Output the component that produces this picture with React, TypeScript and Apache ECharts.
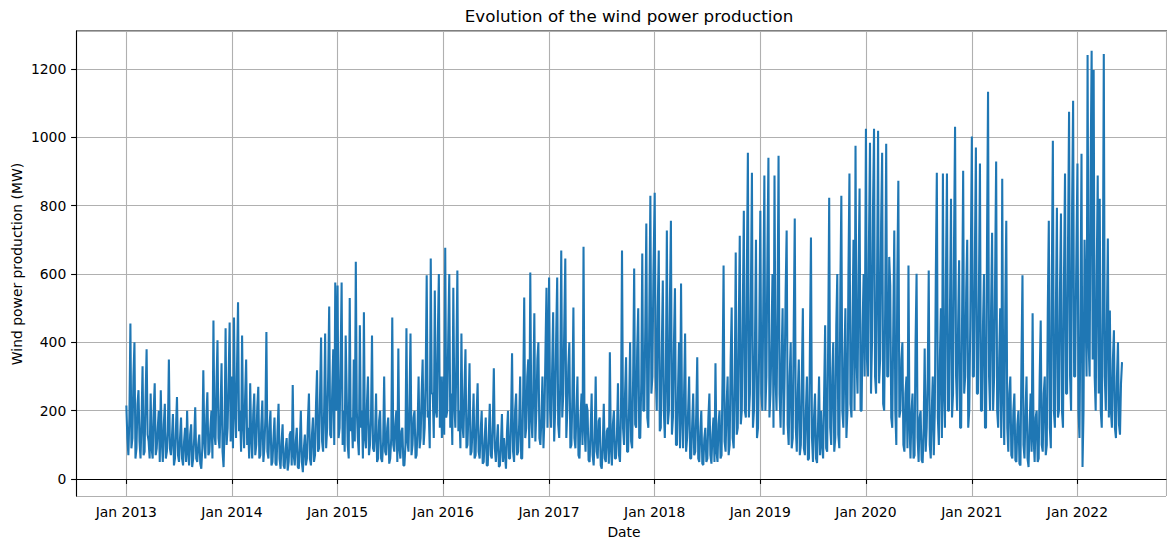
import React, { useEffect, useRef } from "react";
import * as echarts from "echarts";

// Half-weekly readings (MW) per year, read/
const y2013 = [215, 120, 70, 180, 455, 90, 120, 300, 400, 60, 90, 220, 260, 110, 60, 170, 330, 70, 80, 240, 380, 130, 110, 60, 250, 90, 60, 200, 280, 70, 90, 150, 200, 50, 260, 110, 50, 160, 220, 60, 80, 140, 350, 90, 70, 120, 190, 40, 60, 150, 240, 70, 50, 120, 180, 60, 40, 110, 150, 50, 200, 80, 40, 130, 160, 35, 60, 120, 210, 60, 50, 100, 130, 45, 30, 90, 318, 110, 60, 180, 254, 70, 80, 150, 200, 60, 464, 130, 100, 280, 406, 120, 90, 200, 339, 80, 35, 150, 441, 100, 150, 300, 458, 110];
const y2014 = [300, 90, 473, 200, 120, 330, 517, 140, 200, 80, 420, 160, 90, 240, 350, 100, 150, 60, 280, 120, 60, 190, 250, 70, 100, 210, 270, 60, 70, 160, 230, 50, 90, 180, 430, 80, 60, 150, 200, 40, 50, 120, 180, 45, 40, 140, 220, 60, 30, 110, 160, 40, 30, 90, 120, 25, 50, 130, 140, 40, 275, 70, 40, 110, 150, 35, 30, 100, 200, 50, 20, 90, 130, 40, 60, 170, 250, 60, 40, 130, 180, 50, 70, 220, 318, 80, 90, 250, 414, 110, 80, 200, 426, 90, 150, 300, 505, 130, 120, 260, 380, 100, 575, 200];
const y2015 = [566, 120, 150, 350, 575, 100, 200, 80, 420, 250, 100, 60, 530, 140, 180, 90, 350, 110, 636, 200, 120, 70, 450, 150, 200, 60, 488, 120, 90, 220, 300, 70, 100, 180, 420, 90, 80, 130, 250, 50, 60, 170, 200, 60, 50, 110, 300, 80, 70, 150, 180, 45, 60, 120, 473, 100, 80, 160, 200, 50, 382, 90, 60, 140, 150, 40, 40, 100, 441, 110, 80, 220, 426, 70, 100, 180, 200, 60, 70, 150, 300, 90, 120, 250, 350, 100, 150, 300, 596, 180, 200, 90, 645, 250, 250, 120, 552, 200, 180, 420, 600, 150, 300, 120];
const y2016 = [300, 130, 677, 180, 200, 420, 600, 150, 250, 100, 560, 220, 150, 350, 610, 140, 200, 90, 426, 160, 120, 260, 380, 90, 100, 200, 339, 70, 80, 150, 250, 60, 70, 190, 280, 80, 60, 140, 200, 45, 50, 120, 180, 40, 40, 130, 220, 70, 60, 160, 324, 90, 50, 110, 160, 35, 40, 100, 190, 50, 120, 70, 30, 140, 200, 60, 60, 170, 368, 80, 50, 200, 250, 70, 80, 160, 300, 60, 60, 250, 531, 120, 150, 300, 350, 90, 604, 180, 120, 260, 485, 110, 200, 350, 400, 120, 100, 180, 300, 90, 180, 380, 560, 150];
const y2017 = [590, 200, 150, 320, 488, 110, 200, 420, 590, 160, 120, 280, 669, 180, 250, 450, 645, 120, 200, 330, 400, 90, 100, 240, 502, 120, 90, 200, 300, 70, 60, 180, 250, 100, 680, 150, 80, 220, 200, 55, 50, 140, 250, 70, 40, 120, 300, 80, 60, 170, 180, 40, 30, 100, 220, 60, 50, 140, 150, 45, 371, 90, 40, 160, 200, 60, 60, 130, 280, 70, 50, 200, 669, 150, 100, 250, 356, 80, 80, 210, 400, 110, 90, 300, 616, 160, 150, 380, 500, 120, 120, 280, 660, 200, 200, 450, 748, 180, 150, 500, 829, 250, 300, 600];
const y2018 = [838, 300, 200, 500, 669, 140, 150, 380, 581, 200, 120, 300, 727, 160, 200, 520, 756, 130, 180, 400, 558, 100, 100, 260, 400, 90, 572, 180, 90, 250, 426, 80, 120, 200, 300, 60, 60, 160, 250, 70, 80, 190, 356, 60, 50, 140, 200, 45, 41, 120, 150, 50, 60, 180, 250, 70, 45, 130, 180, 50, 339, 80, 50, 160, 200, 60, 70, 300, 625, 110, 80, 220, 300, 70, 100, 350, 502, 120, 90, 280, 663, 130, 150, 450, 712, 160, 200, 500, 785, 200, 180, 600, 955, 180, 250, 550, 896, 150, 200, 400, 700, 120, 150, 350];
const y2019 = [785, 250, 200, 550, 888, 200, 300, 650, 940, 180, 250, 400, 600, 150, 888, 300, 200, 500, 946, 250, 150, 350, 500, 130, 300, 550, 727, 160, 100, 300, 400, 90, 120, 450, 762, 150, 80, 250, 350, 70, 100, 300, 500, 90, 70, 200, 300, 55, 60, 400, 707, 120, 50, 180, 250, 60, 47, 160, 300, 70, 200, 100, 60, 250, 450, 90, 80, 400, 823, 150, 100, 300, 400, 80, 120, 450, 600, 130, 90, 550, 829, 200, 150, 350, 500, 120, 200, 600, 894, 220, 180, 450, 700, 200, 975, 350, 250, 600, 850, 200, 200, 450, 600, 300];
const y2020 = [1025, 350, 300, 700, 984, 250, 400, 800, 1025, 300, 250, 600, 1019, 280, 350, 750, 955, 220, 200, 500, 981, 300, 300, 650, 566, 180, 150, 450, 727, 200, 100, 600, 873, 180, 200, 350, 400, 100, 80, 250, 300, 90, 625, 160, 60, 200, 250, 60, 70, 400, 601, 120, 50, 180, 200, 55, 47, 150, 382, 80, 150, 300, 610, 100, 60, 200, 300, 70, 200, 600, 896, 180, 100, 350, 500, 120, 894, 250, 150, 600, 894, 200, 200, 500, 820, 180, 250, 700, 1031, 300, 200, 450, 640, 150, 150, 500, 902, 250, 300, 550, 700, 150, 200, 450];
const y2021 = [1002, 300, 300, 650, 970, 250, 250, 550, 923, 200, 200, 450, 600, 150, 150, 700, 1133, 300, 200, 500, 721, 200, 300, 600, 929, 200, 150, 350, 500, 120, 879, 250, 100, 500, 756, 150, 80, 250, 300, 70, 60, 200, 250, 55, 50, 160, 200, 45, 40, 350, 596, 100, 60, 200, 300, 60, 35, 150, 250, 80, 485, 120, 50, 180, 200, 50, 60, 300, 464, 100, 80, 250, 300, 70, 100, 500, 756, 150, 90, 600, 990, 200, 150, 500, 794, 180, 200, 550, 777, 200, 150, 600, 894, 250, 250, 700, 1075, 300, 200, 800, 1107, 300, 300, 600];
const y2022 = [923, 200, 120, 500, 952, 35, 200, 700, 500, 300, 1241, 400, 300, 900, 1253, 350, 1197, 300, 200, 600, 888, 250, 820, 200, 150, 500, 1244, 300, 200, 450, 704, 180, 493, 200, 150, 350, 435, 150, 120, 300, 400, 160, 130, 280, 342];

const years = [2013, 2014, 2015, 2016, 2017, 2018, 2019, 2020, 2021, 2022];
const yearValues = [y2013, y2014, y2015, y2016, y2017, y2018, y2019, y2020, y2021, y2022];

const monthNames = ["Jan", "Feb", "Mar", "Apr", "May", "Jun", "Jul", "Aug", "Sep", "Oct", "Nov", "Dec"];

const DAY = 24 * 3600 * 1000;
const STEP_DAYS = 3.5;

function buildData(): [number, number][] {
  const out: [number, number][] = [];
  years.forEach((yr, k) => {
    const start = Date.UTC(yr, 0, 1);
    yearValues[k].forEach((v, i) => out.push([start + i * STEP_DAYS * DAY, v]));
  });
  return out;
}

const FONT = "DejaVu Sans";

export default function App() {
  const ref = useRef<HTMLDivElement>(null);
  useEffect(() => {
    if (!ref.current) return;
    const chart = echarts.init(ref.current, undefined, { renderer: "svg" });
    const data = buildData();
    const xMin = Date.UTC(2012, 6, 11);
    const xMax = Date.UTC(2022, 10, 3);
    chart.setOption({
      animation: false,
      useUTC: true,
      backgroundColor: "#ffffff",
      title: {
        text: "Evolution of the wind power production",
        left: 624,
        top: 2,
        textAlign: "center",
        textStyle: { fontFamily: FONT, fontSize: 16.7, fontWeight: "normal", color: "#000" },
      },
      grid: {
        left: 76,
        top: 31,
        width: 1090,
        height: 466,
        show: false,
      },
      xAxis: {
        type: "time",
        min: xMin,
        max: xMax,
        minInterval: 365 * DAY,
        maxInterval: 366 * DAY,
        name: "Date",
        nameLocation: "middle",
        nameGap: 29,
        nameTextStyle: { fontFamily: FONT, fontSize: 13.9, color: "#000", verticalAlign: "top", padding: [0, 0, 0, 6] },
        axisLine: { show: true, lineStyle: { color: "#000", width: 1.1 } },
        axisTick: { show: true, length: 4.9, lineStyle: { color: "#000", width: 1.1 } },
        axisLabel: {
          margin: 9,
          fontFamily: FONT,
          fontSize: 13.9,
          color: "#000",
          hideOverlap: false,
          formatter: (val: number) => {
            const d = new Date(val);
            return monthNames[d.getUTCMonth()] + " " + d.getUTCFullYear();
          },
        },
        splitLine: { show: true, lineStyle: { color: "#b0b0b0", width: 1.1 } },
      },
      yAxis: {
        type: "value",
        min: -49.6,
        max: 1311,
        splitNumber: 7,
        axisLine: { show: true, lineStyle: { color: "#000", width: 1.1 } },
        axisTick: { show: true, length: 4.9, lineStyle: { color: "#000", width: 1.1 } },
        axisLabel: {
          margin: 9.7,
          fontFamily: FONT,
          fontSize: 13.9,
          color: "#000",
          showMinLabel: false,
          showMaxLabel: false,
          formatter: (v: number) => String(Math.round(v)),
        },
        splitLine: { show: true, lineStyle: { color: "#b0b0b0", width: 1.1 } },
      },
      graphic: [
        {
          type: "line",
          silent: true,
          shape: { x1: 76, y1: 31, x2: 1167, y2: 31 },
          style: { stroke: "#000", lineWidth: 1.1 },
        },
        {
          type: "text",
          x: 17,
          y: 264,
          rotation: Math.PI / 2,
          style: {
            text: "Wind power production (MW)",
            fontFamily: FONT,
            fontSize: 13.9,
            fill: "#000",
            align: "center",
            verticalAlign: "middle",
          },
        },
      ],
      series: [
        {
          type: "line",
          data,
          showSymbol: false,
          symbol: "none",
          lineStyle: { color: "#1f77b4", width: 2.08 },
          itemStyle: { color: "#1f77b4" },
          silent: true,
        },
      ],
    });
    return () => chart.dispose();
  }, []);
  return (
    <div
      ref={ref}
      style={{ position: "fixed", left: 0, top: 0, width: 1167, height: 544, background: "#fff" }}
    />
  );
}
